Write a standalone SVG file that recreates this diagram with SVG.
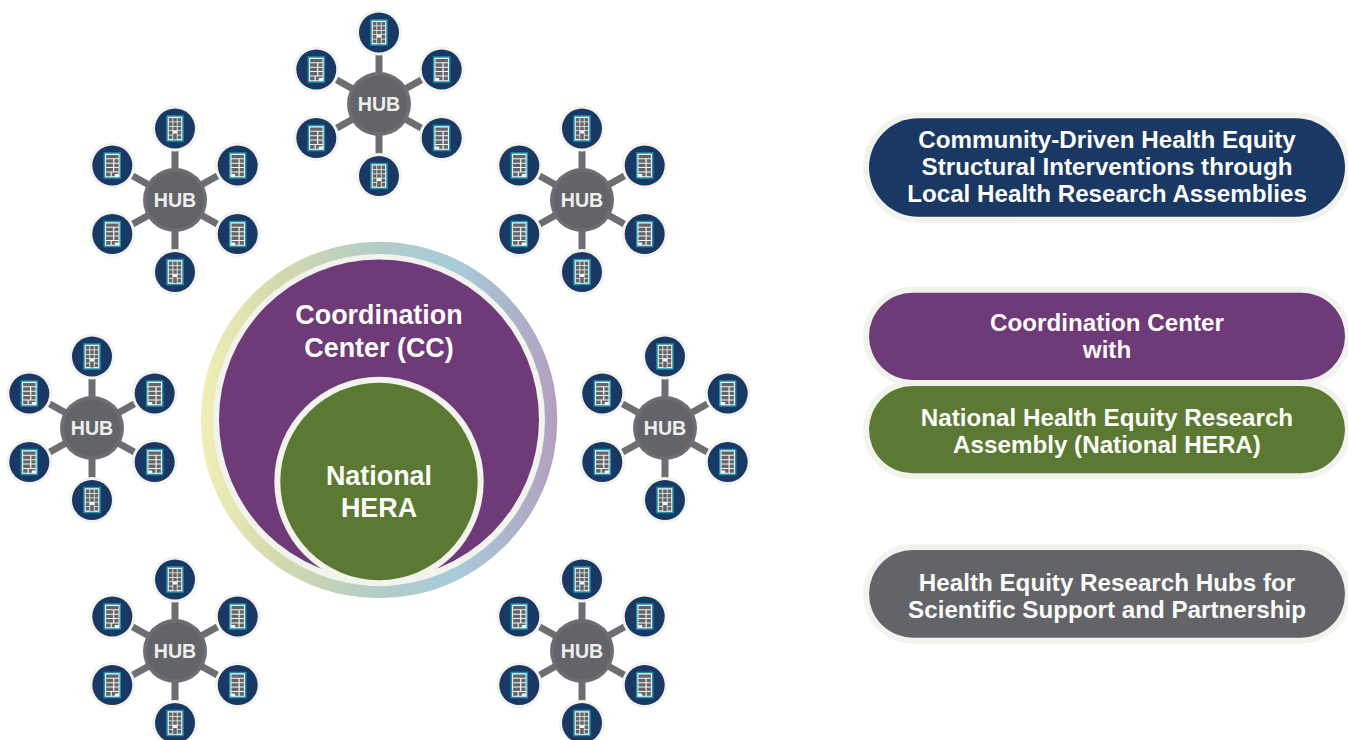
<svg xmlns="http://www.w3.org/2000/svg" width="1348" height="740" viewBox="0 0 1348 740">
<style>
text{font-family:"Liberation Sans",Arial,sans-serif;font-weight:700;fill:#fbfbf8;text-anchor:middle}
.big{font-size:26.9px}
.lab{font-size:24.2px}
.hubt{font-size:19.6px;fill:#eeeeec}
.pale{fill:#f3f3ee}
.navy{fill:#1a3864}
.purple{fill:#6e3a78}
.green{fill:#5c7934}
.gray{fill:#636469}
.pill{stroke:#f3f3ee;stroke-width:12;paint-order:stroke}
.spoke{fill:none;stroke:#6d6e73;stroke-width:7}
.hubo{fill:#6d6e73}
.bd{fill:#f4f6f4;stroke:#1b93a9;stroke-width:1.5}
.cell{fill:#636469}
</style>
<defs>
<linearGradient id="ringGrad" x1="0" y1="0" x2="1" y2="0">
<stop offset="0" stop-color="#f1efb6"/>
<stop offset="0.22" stop-color="#d3d8ac"/>
<stop offset="0.5" stop-color="#b2cdc8"/>
<stop offset="0.72" stop-color="#a8cbda"/>
<stop offset="1" stop-color="#b3a0bd"/>
</linearGradient>
<path id="spokes" d="M0-30V-50M0 30V50M26-15L44-25M-26-15L-44-25M26 15L44 25M-26 15L-44 25"/>
<g id="dish"><circle r="23" class="pale"/><circle r="20" class="navy"/></g>
<g id="satA">
<use href="#dish"/>
<rect x="-8" y="-12.5" width="16" height="25" class="bd"/>
<path class="cell" d="M-6.2-10.6h3.6v3.6h-3.6zM-1.8-10.6h3.6v3.6h-3.6zM2.6-10.6h3.6v3.6h-3.6zM-6.2-6.2h3.6v3.6h-3.6zM-1.8-6.2h3.6v3.6h-3.6zM2.6-6.2h3.6v3.6h-3.6zM-6.2-1.8h3.6v3.6h-3.6zM-1.8-1.8h3.6v3.6h-3.6zM2.6-1.8h3.6v3.6h-3.6zM-6.2 2.6h3.6v3.6h-3.6zM2.6 2.6h3.6v3.6h-3.6zM-1.8 5h3.6v6h-3.6zM-6.2 7h3.6v3.6h-3.6zM2.6 7h3.6v3.6h-3.6z"/>
</g>
<g id="satL">
<use href="#dish"/>
<rect x="-8" y="-12.5" width="16" height="25" class="bd"/>
<path class="cell" d="M-6.2-10.6h12.4v3.4h-12.4zM-6.2-6.2h7v3.4h-7zM2-6.2h4.2v3.4h-4.2zM-6.2-1.8h7v3.4h-7zM2-1.8h4.2v3.4h-4.2zM-6.2 2.6h7v3.4h-7zM2 2.6h4.2v3.4h-4.2zM-6.2 7h4.5v3.8h-4.5zM-.5 7h6.7v1.4h-6.7zM-.5 8.4h3v2.4h-3z"/>
</g>
<g id="satR">
<use href="#dish"/>
<rect x="-8" y="-12.5" width="16" height="25" class="bd"/>
<path class="cell" d="M-6.2-10.6h12.4v3.4h-12.4zM-6.2-6.2h7v3.4h-7zM2-6.2h4.2v3.4h-4.2zM-6.2-1.8h7v3.4h-7zM2-1.8h4.2v3.4h-4.2zM-6.2 2.6h7v3.4h-7zM2 2.6h4.2v3.4h-4.2zM2 7h4.2v3.8h-4.2zM-6.2 7h7v1.4h-7zM-2.5 8.4h3.3v2.4h-3.3z"/>
</g>
<g id="hubCore"><circle r="32" class="hubo"/><circle r="28.5" class="gray"/></g>
<g id="ring6">
<use href="#satA" y="-71.5"/>
<use href="#satL" x="-62.7" y="-34.5"/>
<use href="#satR" x="62.7" y="-34.5"/>
<use href="#satL" x="-62.7" y="34"/>
<use href="#satR" x="62.7" y="34"/>
<use href="#satA" y="72"/>
</g>
</defs>

<g id="connectors" class="spoke">
<use href="#spokes" x="379" y="104"/>
<use href="#spokes" x="175" y="200"/>
<use href="#spokes" x="582" y="200"/>
<use href="#spokes" x="92" y="428"/>
<use href="#spokes" x="665" y="428"/>
<use href="#spokes" x="175" y="651"/>
<use href="#spokes" x="582" y="651"/>
</g>

<g id="hub-top" transform="translate(379 104)"><use href="#ring6"/><use href="#hubCore"/><text class="hubt" y="7">HUB</text></g>
<g id="hub-upper-left" transform="translate(175 200)"><use href="#ring6"/><use href="#hubCore"/><text class="hubt" y="7">HUB</text></g>
<g id="hub-upper-right" transform="translate(582 200)"><use href="#ring6"/><use href="#hubCore"/><text class="hubt" y="7">HUB</text></g>
<g id="hub-middle-left" transform="translate(92 428)"><use href="#ring6"/><use href="#hubCore"/><text class="hubt" y="7">HUB</text></g>
<g id="hub-middle-right" transform="translate(665 428)"><use href="#ring6"/><use href="#hubCore"/><text class="hubt" y="7">HUB</text></g>
<g id="hub-lower-left" transform="translate(175 651)"><use href="#ring6"/><use href="#hubCore"/><text class="hubt" y="7">HUB</text></g>
<g id="hub-lower-right" transform="translate(582 651)"><use href="#ring6"/><use href="#hubCore"/><text class="hubt" y="7">HUB</text></g>

<g id="coordination-center">
<circle cx="379" cy="420" r="178.3" fill="url(#ringGrad)"/>
<circle cx="379" cy="420" r="166" class="pale"/>
<circle cx="379" cy="419.5" r="160" class="purple"/>
<text class="big" x="379" y="323.5">Coordination</text>
<text class="big" x="379" y="356.5">Center (CC)</text>
</g>
<g id="national-hera">
<circle cx="379" cy="481.5" r="104.7" class="pale"/>
<circle cx="379" cy="481.5" r="98.7" class="green"/>
<text class="big" x="379" y="485">National</text>
<text class="big" x="379" y="517">HERA</text>
</g>

<g id="legend-assemblies">
<rect x="869" y="118.3" width="476" height="98.4" rx="49.2" class="navy pill"/>
<text class="lab" x="1107" y="147.7">Community-Driven Health Equity</text>
<text class="lab" x="1107" y="175">Structural Interventions through</text>
<text class="lab" x="1107" y="202.3">Local Health Research Assemblies</text>
</g>
<g id="legend-coordination">
<rect x="869" y="292.7" width="476" height="87.3" rx="43.6" class="purple pill"/>
<text class="lab" x="1107" y="330.7">Coordination Center</text>
<text class="lab" x="1107" y="357.7">with</text>
</g>
<g id="legend-hera">
<rect x="869" y="386" width="476" height="87.3" rx="43.6" class="green pill"/>
<text class="lab" x="1107" y="425.7">National Health Equity Research</text>
<text class="lab" x="1107" y="452.7">Assembly (National HERA)</text>
</g>
<g id="legend-hubs">
<rect x="869" y="550" width="476" height="87.7" rx="43.8" class="gray pill"/>
<text class="lab" x="1107" y="590.7">Health Equity Research Hubs for</text>
<text class="lab" x="1107" y="617.7">Scientific Support and Partnership</text>
</g>
</svg>
